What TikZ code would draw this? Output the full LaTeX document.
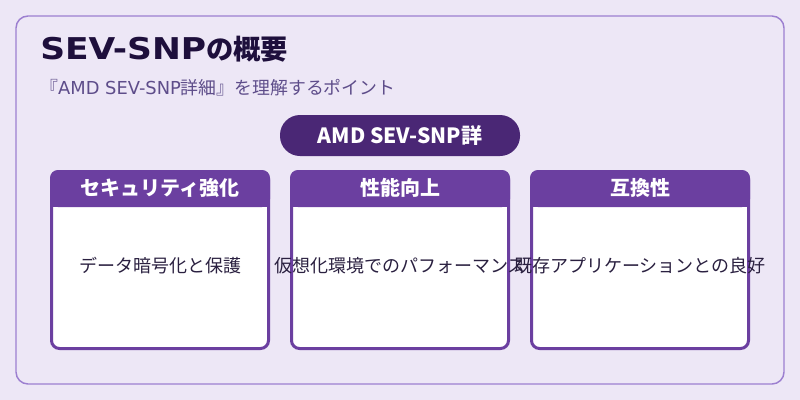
\documentclass[tikz,border=0pt]{standalone}
\usepackage{fontspec}
\setmainfont{Noto Sans CJK JP}
\newfontfamily\latfont{DejaVu Sans}
\newfontfamily\widefont{DejaVu Sans}[FakeStretch=1.15]
\usepackage{tikz}
\definecolor{bgcol}{HTML}{EDE7F6}
\definecolor{framecol}{HTML}{9C7FD0}
\definecolor{pillcol}{HTML}{4A2775}
\definecolor{hdcol}{HTML}{6B3FA0}
\definecolor{titlecol}{HTML}{1E0F3C}
\definecolor{subcol}{HTML}{5E4D8A}
\definecolor{txtcol}{HTML}{2A2040}

\begin{document}
\begin{tikzpicture}[x=0.75pt,y=-0.75pt,
  card/.style={draw=hdcol,line width=2.25pt,fill=white,rounded corners=6pt,
    minimum width=162.75pt,minimum height=132.75pt,inner sep=0pt},
  hdtext/.style={text=white,font=\fontsize{15pt}{18pt}\selectfont\bfseries},
  bodytext/.style={text=txtcol,font=\fontsize{13.5pt}{16pt}\selectfont}]
\fill[bgcol] (0,0) rectangle (800,400);
\draw[framecol,line width=1.1pt,rounded corners=9pt] (16,16) rectangle (784,384);
\node[anchor=base west,inner sep=0pt,text=titlecol,font=\bfseries] (title) at (40,59.5)
  {{\widefont\fontsize{22.5pt}{26pt}\selectfont SEV-SNP}{\fontsize{20.5pt}{24pt}\selectfont の概要}};
\node[anchor=base west,inner sep=0pt,text=subcol,font=\fontsize{13.4pt}{15pt}\selectfont] (sub) at (40,94)
  {『{\latfont AMD SEV-SNP}詳細』を理解するポイント};
\node[fill=pillcol,rounded corners=15pt,minimum width=180pt,minimum height=30.75pt,text=white,font=\fontsize{15.75pt}{18pt}\selectfont\bfseries] (pill) at (400,135.5) {AMD SEV-SNP詳};

\node[card] (c1) at (160,260) {};
\fill[hdcol,rounded corners=6pt] (c1.north west) rectangle ++(220,37);
\fill[hdcol] (c1.north west) ++(0,18) rectangle ++(220,19);
\node[hdtext] (h1) at (160,188) {セキュリティ強化};
\node[bodytext] (b1) at (160,266) {データ暗号化と保護};

\node[card] (c2) at (400,260) {};
\fill[hdcol,rounded corners=6pt] (c2.north west) rectangle ++(220,37);
\fill[hdcol] (c2.north west) ++(0,18) rectangle ++(220,19);
\node[hdtext] (h2) at (400,188) {性能向上};
\node[bodytext] (b2) at (400,266) {仮想化環境でのパフォーマンス};

\node[card] (c3) at (640,260) {};
\fill[hdcol,rounded corners=6pt] (c3.north west) rectangle ++(220,37);
\fill[hdcol] (c3.north west) ++(0,18) rectangle ++(220,19);
\node[hdtext] (h3) at (640,188) {互換性};
\node[bodytext] (b3) at (640,266) {既存アプリケーションとの良好};
\end{tikzpicture}
\end{document}
